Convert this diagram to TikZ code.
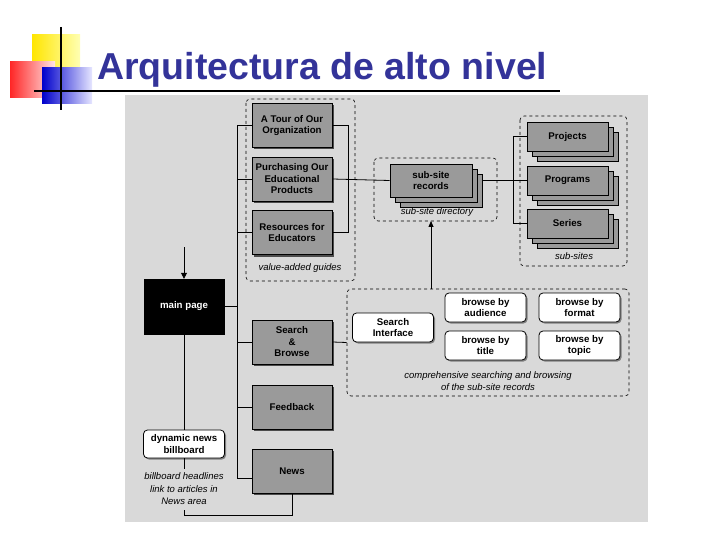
\documentclass[tikz,border=0pt]{standalone}
\usepackage{fontspec}
\setmainfont{Liberation Sans}
\usetikzlibrary{shadows,arrows.meta}
\definecolor{titleblue}{HTML}{333399}
\definecolor{boxgray}{HTML}{9A9A9A}
\definecolor{bggray}{HTML}{D9D9D9}
\begin{document}
\begin{tikzpicture}[x=1pt,y=-1pt,
  gbox/.style={draw=black,line width=0.9pt,fill=boxgray,minimum width=80pt,minimum height=44pt,align=center,font=\bfseries\fontsize{9.7}{11.5}\selectfont,inner sep=1pt,drop shadow={shadow xshift=2pt,shadow yshift=-2pt,fill=black!70,opacity=1}},
  sbox/.style={draw=black,line width=0.9pt,fill=boxgray,minimum width=81pt,minimum height=29pt,align=center,font=\bfseries\fontsize{9.7}{11.5}\selectfont,inner sep=1pt,double copy shadow={shadow xshift=5pt,shadow yshift=-5pt,fill=boxgray,draw=black}},
  wbox/.style={draw=black,line width=0.8pt,fill=white,rounded corners=4pt,minimum width=81pt,minimum height=29pt,align=center,font=\bfseries\fontsize{9.7}{11.5}\selectfont,inner sep=1pt,drop shadow={shadow xshift=1.5pt,shadow yshift=-1.5pt,fill=black!50,opacity=1}},
  dbox/.style={draw=black,dashed,line width=0.6pt,rounded corners=4pt},
  captxt/.style={font=\itshape\fontsize{9.5}{12.5}\selectfont,align=center},
  ln/.style={line width=0.8pt}]
\useasboundingbox (0,0) rectangle (720,540);
% logo
\shade[left color=yellow!80!orange,right color=yellow!30] (32,35) rectangle (80,68);
\shade[left color=red!85,right color=red!10] (10,62) rectangle (55,98);
\shade[left color=blue!80!black,right color=blue!10] (42,68) rectangle (92,104);
\draw[line width=1.5pt] (61,27) -- (61,110);
\draw[line width=1.5pt] (34,91) -- (560,91);
\node[anchor=base west,text=titleblue,font=\bfseries\fontsize{37.5}{40}\selectfont,inner sep=0] (title) at (97,80) {Arquitectura de alto nivel};
% diagram background
\fill[bggray] (125,95) rectangle (648,522);
% dashed groups
\draw[dbox] (246,99) rectangle (355,281);
\node[captxt] (vag) at (300,268) {value-added guides};
\draw[dbox] (374,158) rectangle (497,221);
\node[captxt] (ssd) at (437,212) {sub-site directory};
\draw[dbox] (520,116) rectangle (627,266);
\node[captxt] (ss) at (574,256) {sub-sites};
\node[draw=black,dashed,line width=0.6pt,rounded corners=4pt,minimum width=282pt,minimum height=107pt] (sgrp) at (488,342.5) {};
\node[captxt] (scap) at (488,381) {comprehensive searching and browsing\\of the sub-site records};
% boxes
\node[gbox] (tour) at (292,125.5) {A Tour of Our\\Organization};
\node[gbox] (purch) at (292,179) {Purchasing Our\\Educational\\Products};
\node[gbox] (res) at (292,232.5) {Resources for\\Educators};
\node[gbox] (sb) at (292,342) {Search\\\&\\Browse};
\node[gbox] (fb) at (292,407) {Feedback};
\node[gbox] (news) at (292,471) {News};
\node[draw=black,fill=black,text=white,minimum width=80pt,minimum height=55pt,font=\bfseries\fontsize{9.7}{11.5}\selectfont] (main) at (184,306.5) {main page};
\coordinate (in) at (184,247);
\draw[ln,-{Triangle[length=6pt,width=6pt]}] (in) -- (main.north);
\node[wbox,minimum height=28pt] (bill) at (184,444) {dynamic news\\billboard};
\node[captxt] (bcap) at (184,489) {billboard headlines\\link to articles in\\News area};
\node[sbox,minimum width=82pt,minimum height=33pt] (ssr) at (431,180.5) {sub-site\\records};
\node[sbox] (proj) at (567.5,136.5) {Projects};
\node[sbox] (prog) at (567.5,180.5) {Programs};
\node[sbox] (ser) at (567.5,223.5) {Series};
\node[wbox] (si) at (393,327.5) {Search\\Interface};
\node[wbox] (ba) at (485.5,307.5) {browse by\\audience};
\node[wbox] (bf) at (579.5,307.5) {browse by\\format};
\node[wbox] (bt) at (485.5,345.5) {browse by\\title};
\node[wbox] (btp) at (579.5,345.5) {browse by\\topic};
% connectors
\coordinate (nw) at (252,478);
\draw[ln] (tour.west) -| (237,478) -- (nw);
\draw[ln] (purch.west) -- (237,179);
\draw[ln] (res.west) -- (237,232.5);
\draw[ln] (main.east) -- (237,306.5);
\draw[ln] (sb.west) -- (237,342);
\draw[ln] (fb.west) -- (237,407);
\draw[ln] (tour.east) -- (348,125.5) |- (res.east);
\draw[ln] (purch.east) -- (ssr.west);
\draw[ln] (482,180.5) -- (513,180.5);
\draw[ln] (proj.west) -- (513,136.5) |- (ser.west);
\draw[ln] (513,180.5) -- (prog.west);
\draw[ln] (sb.east) -- (sgrp.west);
\draw[ln,-{Triangle[length=6pt,width=5pt]}] (sgrp.north -| ssd) ++(-6,0) -- (431,221);
\draw[ln] (main.south) -- (bill.north);
\draw[ln] (bill.south) -- (184,469);
\draw[ln] (184,510) -- (184,515) -| (news.south);
\end{tikzpicture}
\end{document}
